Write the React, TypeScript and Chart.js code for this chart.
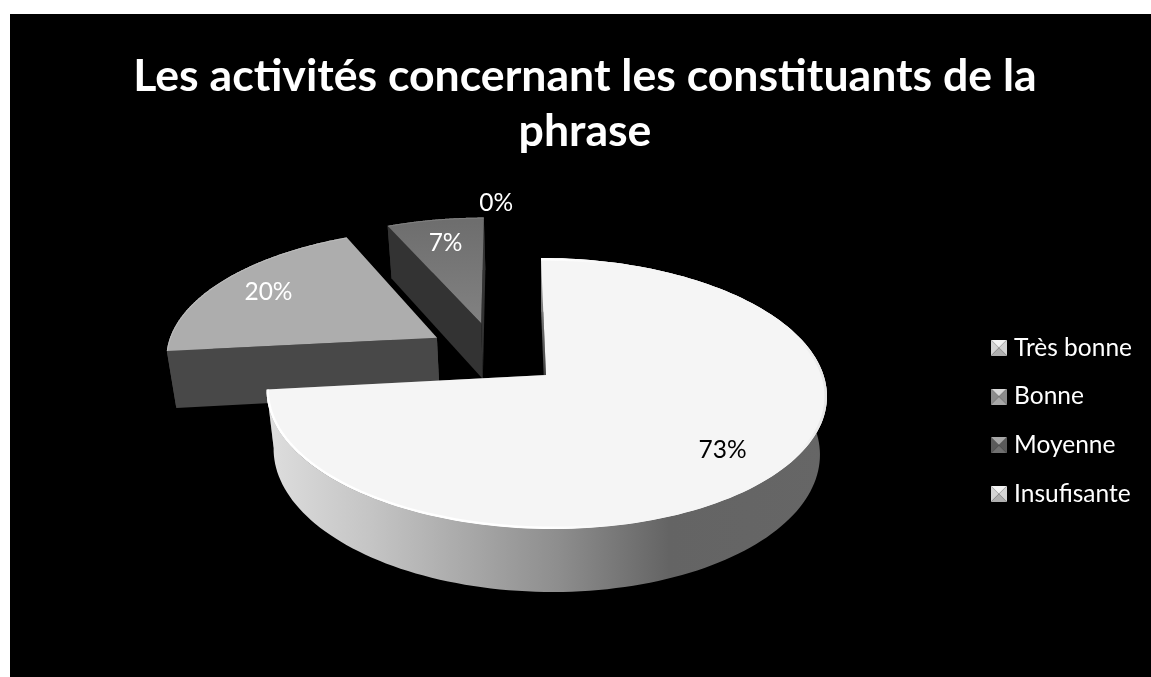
import React, { useEffect, useRef } from "react";
import { Chart, registerables } from "chart.js";

Chart.register(...registerables);

const categories = ["Très bonne", "Bonne", "Moyenne", "Insufisante"];
const percentValues = [73.3, 20, 6.7, 0];
const titleLines = ["Les activités concernant les constituants de la", "phrase"];

const topColors = ["#f5f5f5", "#adadad", "#787878", "#e0e0e0"];
const wallColors = ["#666666", "#484848", "#333333", "#333333"];
const labelColors = ["#000000", "#ffffff", "#ffffff", "#ffffff"];
const labelRadii = [0.78, 0.78, 0.75, 1.15];
const markerShades = [
  ["#f4f4f4", "#d4d4d4", "#b0b0b0"],
  ["#d8d8d8", "#8c8c8c", "#a8a8a8"],
  ["#a8a8a8", "#5a5a5a", "#707070"],
  ["#f4f4f4", "#d4d4d4", "#b0b0b0"],
];

const CANVAS_W = 1141;
const CANVAS_H = 663;
const APEX_X = 536;
const APEX_Y = 361;
const PERSP = 0.1365;
const RX = 277.5;
const RY = 133;
const SHEAR = 5.7;
const DEPTH = 57.7;
const SHRINK = 0.025;
const LABEL_FONT = '24.5px Lato, "Open Sans", sans-serif';

function makeMarker(shades: string[]) {
  const c = document.createElement("canvas");
  c.width = 16;
  c.height = 16;
  const g = c.getContext("2d")!;
  const tri = (pts: number[][], col: string) => {
    g.fillStyle = col;
    g.beginPath();
    g.moveTo(pts[0][0], pts[0][1]);
    g.lineTo(pts[1][0], pts[1][1]);
    g.lineTo(pts[2][0], pts[2][1]);
    g.closePath();
    g.fill();
  };
  tri([[0, 0], [16, 0], [8, 8]], shades[0]);
  tri([[0, 0], [0, 16], [8, 8]], shades[1]);
  tri([[16, 0], [16, 16], [8, 8]], shades[1]);
  tri([[0, 16], [16, 16], [8, 8]], shades[2]);
  return c;
}

function project(u: number, v: number, z: number): [number, number] {
  const k = 1 / (1 - PERSP * v);
  const s = 1 - SHRINK * z;
  return [
    APEX_X + s * k * (RX * u + SHEAR * v),
    APEX_Y + k * (RY * v * s + DEPTH * z),
  ];
}

const pie3d = {
  id: "pie3d",
  beforeDatasetsDraw(chart: any) {
    const ctx = chart.ctx as CanvasRenderingContext2D;
    const arcs = chart.getDatasetMeta(0).data;
    const geo = arcs.map((arc: any) => {
      const p = arc.getProps(["startAngle", "endAngle", "outerRadius"], true);
      const mid = (p.startAngle + p.endAngle) / 2;
      const e = arc.options.offset / 4 / p.outerRadius;
      return { start: p.startAngle, end: p.endAngle, mid, du: Math.cos(mid) * e, dv: Math.sin(mid) * e };
    });
    // slices are placed relative to the exploded apex of the first slice
    const ou = geo[0].du;
    const ov = geo[0].dv;
    const at = (g: any, r: number, a: number, z: number) =>
      project(r * Math.cos(a) + g.du - ou, r * Math.sin(a) + g.dv - ov, z);

    const arcPts = (g: any, z: number) => {
      const pts: [number, number][] = [];
      const n = 160;
      for (let i = 0; i <= n; i++) pts.push(at(g, 1, g.start + ((g.end - g.start) * i) / n, z));
      return pts;
    };
    const poly = (pts: number[][]) => {
      ctx.beginPath();
      pts.forEach((q, i) => (i ? ctx.lineTo(q[0], q[1]) : ctx.moveTo(q[0], q[1])));
      ctx.closePath();
    };
    const wallFill = (i: number): any => {
      if (i !== 0) return wallColors[i];
      const gr = ctx.createLinearGradient(256, 0, 816, 0);
      gr.addColorStop(0, "#dedede");
      gr.addColorStop(0.19, "#c4c4c4");
      gr.addColorStop(0.38, "#a5a5a5");
      gr.addColorStop(0.52, "#8e8e8e");
      gr.addColorStop(0.72, "#646464");
      gr.addColorStop(1, wallColors[0]);
      return gr;
    };

    for (const i of [2, 1, 0]) {
      const g = geo[i];
      const top = arcPts(g, 0);
      const bot = arcPts(g, 1);
      const a0 = at(g, 0, 0, 0);
      const a1 = at(g, 0, 0, 1);
      // the face behind the slice goes first, the outer wall covers it
      ctx.fillStyle = wallColors[i];
      poly([a0, top[top.length - 1], bot[bot.length - 1], a1]);
      ctx.fill();
      ctx.fillStyle = wallFill(i);
      poly([...top, ...bot.slice().reverse()]);
      ctx.fill();
      ctx.fillStyle = wallColors[i];
      if (i === 0) {
        const sl = ctx.createLinearGradient(0, 246, 0, 361);
        sl.addColorStop(0, "#b0b0b0");
        sl.addColorStop(0.6, "#666666");
        sl.addColorStop(1, "#444444");
        ctx.fillStyle = sl;
      }
      poly([a0, top[0], bot[0], a1]);
      ctx.fill();

      if (i === 2) {
        const t = ctx.createLinearGradient(0, 208, 0, 310);
        t.addColorStop(0, "#6e6e6e");
        t.addColorStop(1, "#828282");
        ctx.fillStyle = t;
      } else {
        ctx.fillStyle = topColors[i];
      }
      poly([a0, ...top]);
      ctx.fill();

      ctx.save();
      poly([a0, ...top]);
      ctx.clip();
      ctx.beginPath();
      top.forEach((q, j) => (j ? ctx.lineTo(q[0], q[1]) : ctx.moveTo(q[0], q[1])));
      if (i === 0) {
        const rim = ctx.createLinearGradient(256, 0, 816, 0);
        rim.addColorStop(0, "#ffffff");
        rim.addColorStop(0.5, "#ffffff");
        rim.addColorStop(0.62, "#f5f5f5");
        rim.addColorStop(0.95, "#f5f5f5");
        rim.addColorStop(1, "#e6e6e6");
        ctx.strokeStyle = rim;
      } else {
        ctx.strokeStyle = i === 1 ? "#bcbcbc" : "#808080";
      }
      ctx.lineWidth = i === 0 ? 5 : 2;
      ctx.stroke();
      ctx.restore();
    }

    ctx.font = LABEL_FONT;
    ctx.textAlign = "center";
    ctx.textBaseline = "middle";
    geo.forEach((g: any, i: number) => {
      const q = at(g, labelRadii[i], g.mid, 0);
      ctx.fillStyle = labelColors[i];
      ctx.fillText(Math.round(percentValues[i]) + "%", q[0], q[1]);
    });
    return false;
  },
};

export default function App() {
  const ref = useRef<HTMLCanvasElement>(null);
  useEffect(() => {
    const chart = new Chart(ref.current!, {
      type: "pie",
      data: {
        labels: categories,
        datasets: [
          {
            data: percentValues,
            backgroundColor: topColors,
            borderWidth: 0,
            offset: (c: any) => Math.min(c.chart.chartArea.width, c.chart.chartArea.height) / 3,
          },
        ],
      },
      options: {
        responsive: false,
        animation: false,
        layout: { padding: { top: 35, right: 9, bottom: 0, left: 18 } },
        plugins: {
          tooltip: { enabled: false },
          title: {
            display: true,
            text: titleLines,
            color: "#ffffff",
            font: { family: 'Lato, "Open Sans", sans-serif', size: 44.6, weight: "bold", lineHeight: 1.23 },
            padding: { top: 0, bottom: 6 },
          },
          legend: {
            position: "right",
            align: "center",
            fullSize: false,
            labels: {
              color: "#ffffff",
              font: { family: 'Lato, "Open Sans", sans-serif', size: 24.5 },
              usePointStyle: true,
              boxWidth: 6,
              boxHeight: 16,
              padding: 24.2,
              generateLabels: () =>
                categories.map((text, i) => ({
                  text,
                  index: i,
                  datasetIndex: 0,
                  hidden: false,
                  fontColor: "#ffffff",
                  pointStyle: makeMarker(markerShades[i]),
                })),
            },
          },
        },
      } as any,
      plugins: [pie3d],
    });
    return () => chart.destroy();
  }, []);
  return (
    <canvas
      ref={ref}
      width={CANVAS_W}
      height={CANVAS_H}
      style={{ position: "absolute", left: 10, top: 14, width: CANVAS_W, height: CANVAS_H, background: "#000000", display: "block" }}
    />
  );
}
